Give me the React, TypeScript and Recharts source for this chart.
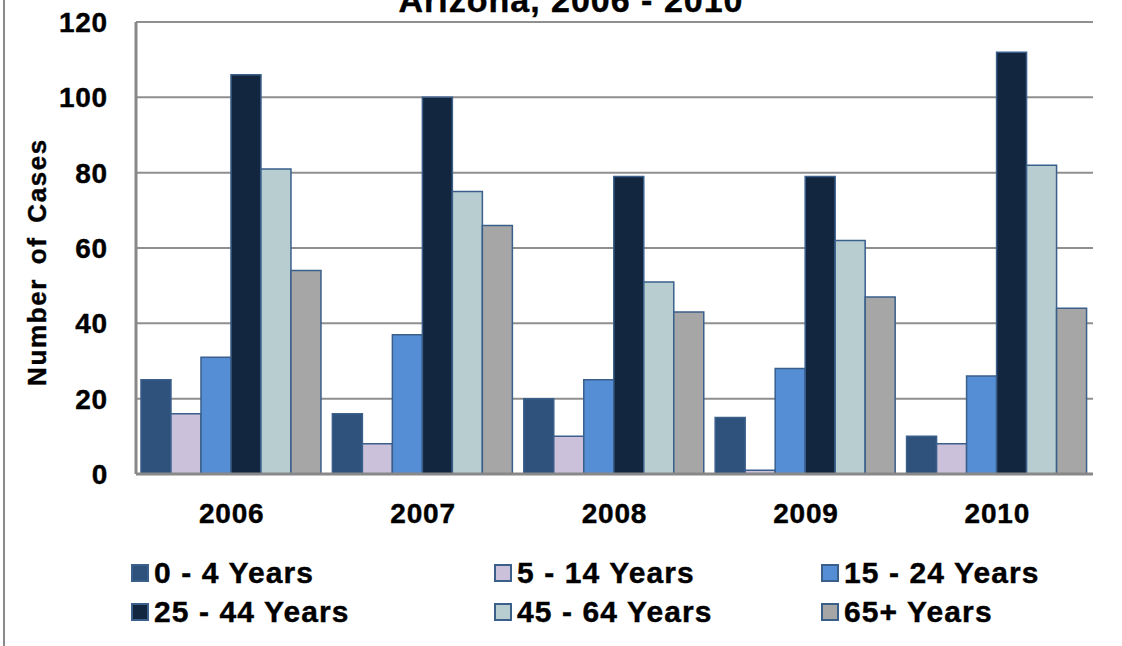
import { BarChart, Bar, XAxis, YAxis, CartesianGrid, Legend } from "recharts";

const years = ["2006", "2007", "2008", "2009", "2010"];
const age0to4 = [25, 16, 20, 15, 10];
const age5to14 = [16, 8, 10, 1, 8];
const age15to24 = [31, 37, 25, 28, 26];
const age25to44 = [106, 100, 79, 79, 112];
const age45to64 = [81, 75, 51, 62, 82];
const age65plus = [54, 66, 43, 47, 44];
const yTicks = [0, 20, 40, 60, 80, 100, 120];

const SERIES = [
  { key: "a0", name: "0 - 4 Years", color: "#2F527D", values: age0to4 },
  { key: "a5", name: "5 - 14 Years", color: "#CBC1DA", values: age5to14 },
  { key: "a15", name: "15 - 24 Years", color: "#558ED5", values: age15to24 },
  { key: "a25", name: "25 - 44 Years", color: "#13263F", values: age25to44 },
  { key: "a45", name: "45 - 64 Years", color: "#B7CDD0", values: age45to64 },
  { key: "a65", name: "65+ Years", color: "#A6A6A6", values: age65plus },
];

const data = years.map((year, i) => {
  const row: Record<string, string | number> = { year };
  SERIES.forEach((s) => {
    row[s.key] = s.values[i];
  });
  return row;
});

const FONT = "'Liberation Sans', Arial, sans-serif";
const EDGE = "#3A5F8B";
const LEGEND_COLS = [131, 494, 821];

const tickStyle = {
  fill: "#000",
  stroke: "#000",
  strokeWidth: 0.4,
  fontSize: 28,
  fontWeight: 700,
  fontFamily: FONT,
  letterSpacing: 0.8,
};

function LegendBox() {
  return (
    <div style={{ position: "relative", width: 1122, height: 90, fontFamily: FONT }}>
      {SERIES.map((s, i) => (
        <div
          key={s.key}
          style={{
            position: "absolute",
            left: LEGEND_COLS[i % 3],
            top: Math.floor(i / 3) * 39,
            display: "flex",
            alignItems: "center",
            height: 34,
          }}
        >
          <span
            style={{
              width: 14,
              height: 14,
              background: s.color,
              border: `2px solid ${EDGE}`,
              marginRight: 5,
            }}
          />
          <span
            style={{
              fontSize: 30,
              fontWeight: 700,
              letterSpacing: 1.1,
              color: "#000",
              WebkitTextStroke: "0.4px #000",
            }}
          >
            {s.name}
          </span>
        </div>
      ))}
    </div>
  );
}

export default function App() {
  return (
    <div
      style={{
        position: "absolute",
        left: 0,
        top: 0,
        width: 1122,
        height: 646,
        background: "#fff",
        overflow: "hidden",
        fontFamily: FONT,
      }}
    >
      <div
        style={{
          position: "absolute",
          left: 3,
          top: 0,
          width: 2,
          height: 646,
          background: "#8a8a8a",
        }}
      />
      <svg
        width={1122}
        height={646}
        style={{ position: "absolute", left: 0, top: 0, pointerEvents: "none" }}
      >
        <text
          x={571}
          y={12}
          textAnchor="middle"
          fontSize={34}
          fontWeight={700}
          fontFamily={FONT}
          letterSpacing={1}
          stroke="#000"
          strokeWidth={0.4}
        >
          Arizona, 2006 - 2010
        </text>
        <text
          transform="translate(46 262) rotate(-90)"
          textAnchor="middle"
          fontSize={26}
          fontWeight={700}
          fontFamily={FONT}
          letterSpacing={1.6}
          wordSpacing={5}
          stroke="#000"
          strokeWidth={0.4}
        >
          Number of Cases
        </text>
      </svg>
      <BarChart
        width={1122}
        height={646}
        data={data}
        margin={{ top: 22, right: 29, left: 76, bottom: 142 }}
        barCategoryGap="2.6%"
        barGap={0}
        style={{ position: "absolute", left: 0, top: 0 }}
      >
        <CartesianGrid vertical={false} stroke="#8f8f8f" strokeWidth={2} />
        <XAxis
          dataKey="year"
          height={30}
          axisLine={{ stroke: "#888", strokeWidth: 3 }}
          tickLine={false}
          tickSize={0}
          tickMargin={29}
          tick={tickStyle}
        />
        <XAxis
          xAxisId="top"
          orientation="top"
          dataKey="year"
          height={0}
          tick={false}
          tickLine={false}
          axisLine={{ stroke: "#000", strokeWidth: 2.5 }}
        />
        <YAxis
          width={60}
          domain={[0, 120]}
          ticks={yTicks}
          interval={0}
          axisLine={{ stroke: "#888", strokeWidth: 3 }}
          tickLine={false}
          tickSize={0}
          tickMargin={28}
          tick={tickStyle}
        />
        <YAxis
          yAxisId="right"
          orientation="right"
          width={0}
          domain={[0, 120]}
          tick={false}
          tickLine={false}
          axisLine={{ stroke: "#000", strokeWidth: 2.5 }}
        />
        <Legend
          verticalAlign="middle"
          layout="horizontal"
          wrapperStyle={{ left: 0, top: 556, width: 1122 }}
          content={() => <LegendBox />}
        />
        {SERIES.map((s) => (
          <Bar
            key={s.key}
            dataKey={s.key}
            name={s.name}
            fill={s.color}
            stroke={EDGE}
            strokeWidth={1.5}
            isAnimationActive={false}
          />
        ))}
      </BarChart>
    </div>
  );
}
